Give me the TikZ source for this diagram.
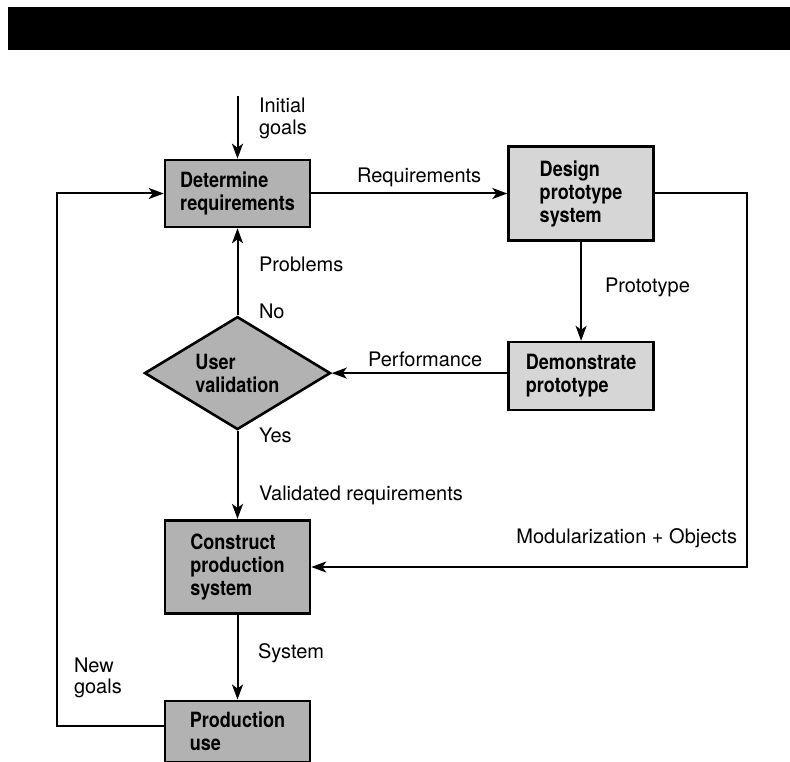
\documentclass[tikz,border=0pt]{standalone}
\usepackage{fontspec}
\setmainfont{TeX Gyre Heros}
\newfontfamily\boxfont[FakeStretch=0.86]{TeX Gyre Heros}
\usetikzlibrary{positioning,shapes.geometric,arrows.meta}
\definecolor{darkfill}{gray}{0.70}
\definecolor{lightfill}{gray}{0.84}

\begin{document}
\begin{tikzpicture}[x=1pt,y=-1pt,>={Stealth[length=15pt,width=11pt,inset=4pt]},line width=2pt,
    proc node/.style={rectangle,draw,line width=2.6pt,fill=darkfill,minimum width=145pt,inner sep=0pt,align=left,font=\boxfont\bfseries\fontsize{21pt}{23pt}\selectfont},
    light node/.style={proc node,fill=lightfill},
    test node/.style={diamond,draw,line width=2.6pt,fill=darkfill,shape aspect=1.646,minimum width=186pt,minimum height=113pt,inner sep=0pt,align=left,font=\boxfont\bfseries\fontsize{21pt}{23pt}\selectfont},
    lbl node/.style={inner sep=0pt,align=left,font=\fontsize{20pt}{22pt}\selectfont}]

            \useasboundingbox (0,0) rectangle (790,762);
            \fill (8,7) rectangle (790,50);

            \node[proc node, minimum height=67pt]  (det) at (237.5,193.5) {Determine\\requirements};
            \node[light node, minimum height=94pt] (des) [right=196pt of det] {Design\\prototype\\system};
            \node[light node, minimum height=68pt] (dem) [below=99pt of des] {Demonstrate\\prototype};
            \node[test node]                       (val) [below=87pt of det] {User\\validation};
            \node[proc node, minimum height=93pt]  (con) [below=88pt of val] {Construct\\production\\system};
            \node[proc node, minimum height=61pt]  (prod) [below=85pt of con] {Production\\use};

            \coordinate (init) at (237.5,96);
            \coordinate (modc) at (747,567);
            \coordinate (newc) at (57,726);

            % labels
            \node[lbl node, anchor=north west] (initlbl) at (258,96.5) {Initial\\goals};
            \node[lbl node, anchor=base west] (reqlbl) at (356,183) {Requirements};
            \node[lbl node, anchor=base west] (problbl) at (258,272) {Problems};
            \node[lbl node, anchor=base west] (nolbl) at (258,318) {No};
            \node[lbl node, anchor=base west] (protolbl) at (604,292) {Prototype};
            \node[lbl node, anchor=base west] (perflbl) at (367,366) {Performance};
            \node[lbl node, anchor=base west] (yeslbl) at (258,442) {Yes};
            \node[lbl node, anchor=base west] (vallbl) at (258,500) {Validated requirements};
            \node[lbl node, anchor=base east] (modlbl) at (738,543) {Modularization + Objects};
            \node[lbl node, anchor=base west] (syslbl) at (257,658) {System};
            \node[lbl node, anchor=north west, font=\fontsize{20pt}{21pt}\selectfont] (newlbl) at (73,657) {New\\goals};

            \draw[->] (init) to (det);
            \draw[->] (det) to (des);
            \draw[->] (des) to (dem);
            \draw[->] (dem.west |- val.east) to (val.east);
            \draw[->] (val) to (det);
            \draw[->] (val) to (con);
            \draw[->] (des.east) -| (modc) -- (modc -| con.east);
            \draw[->] (con) to (prod);
            \draw[->] (prod.west |- newc) -- (newc) |- (det.west);

        \end{tikzpicture}
\end{document}
